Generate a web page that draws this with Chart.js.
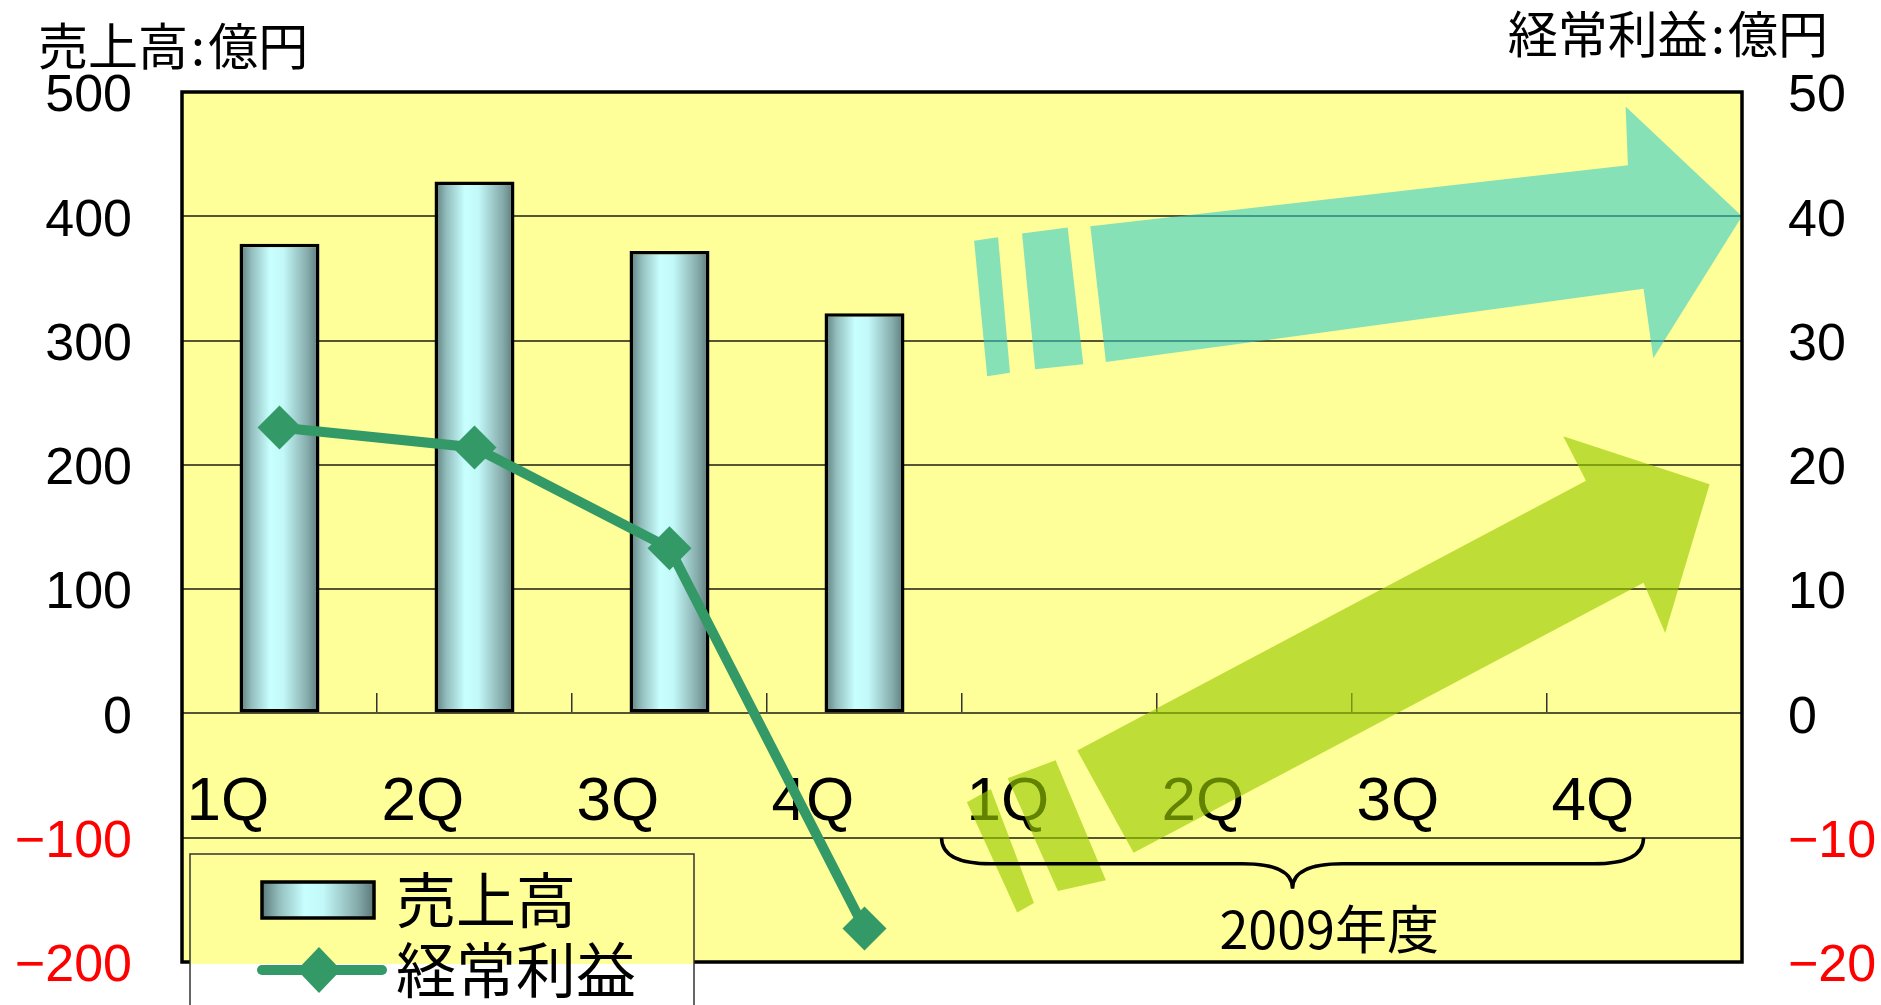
<!DOCTYPE html>
<html lang="ja">
<head>
<meta charset="utf-8">
<script src="https://cdn.jsdelivr.net/npm/chart.js@4.4.1/dist/chart.umd.min.js"></script>
<style>
  html, body { margin: 0; padding: 0; background: #fff; }
  #wrap { width: 1881px; height: 1005px; position: relative; }
</style>
</head>
<body>
<div id="wrap"><canvas id="salesChart"></canvas></div>
<script>
/* globals Chart:false */

// data
const quarters = ['1Q', '2Q', '3Q', '4Q', '1Q', '2Q', '3Q', '4Q'];
const salesValues = [378, 428, 372, 322, null, null, null, null];   // 売上高 (億円)
const profitValues = [23.0, 21.4, 13.3, -17.3, null, null, null, null]; // 経常利益 (億円)
const salesRange = [-200, 500];
const salesStep = 100;
const profitRange = [-20, 50];
const profitStep = 10;
const seriesNames = ['売上高', '経常利益'];
const leftTitle = '売上高\u200A:\u200A億円';
const rightTitle = '経常利益\u200A:\u200A億円';
const yearLabel = '2009年度';

(() => {
  'use strict'

  const JP = '"Noto Sans CJK JP", "Noto Sans", sans-serif';
  const NUM = '"Liberation Sans", Arial, sans-serif';
  const GREEN = '#339966';
  const barPct = 0.41;

  // decorative arrows, in [category, right-axis value] units
  const cyanParts = [
    [[3.562, 38.03], [3.685, 38.32], [3.746, 27.41], [3.629, 27.12]],
    [[3.808, 38.61], [4.042, 39.09], [4.122, 28.09], [3.875, 27.70]],
    [[4.158, 39.19], [6.915, 44.11], [6.903, 48.84], [7.5, 40], [7.045, 28.57], [6.995, 34.17], [4.238, 28.28]]
  ];
  const greenParts = [
    [[3.525, -7.14], [3.648, -6.08], [3.869, -15.25], [3.783, -16.02]],
    [[3.734, -5.21], [3.980, -3.76], [4.238, -13.42], [3.992, -14.29]],
    [[4.091, -2.99], [6.7, 18.73], [6.583, 22.30], [7.334, 18.44], [7.106, 6.47], [6.995, 10.52], [4.38, -11.20]]
  ];

  const cylinder = (c, x0, x1) => {
    const g = c.createLinearGradient(x0, 0, x1, 0);
    g.addColorStop(0, '#5b7a7a');
    g.addColorStop(0.15, '#93bdbd');
    g.addColorStop(0.38, '#c8ffff');
    g.addColorStop(0.55, '#c2f8f8');
    g.addColorStop(0.85, '#86abab');
    g.addColorStop(1, '#5b7878');
    return g;
  };

  const barFill = (ctx) => {
    const chart = ctx.chart;
    const xs = chart.scales.x;
    if (!chart.chartArea || !xs || ctx.dataIndex === undefined) return '#c6fcfc';
    const step = xs.getPixelForValue(1) - xs.getPixelForValue(0);
    const cx = xs.getPixelForValue(ctx.dataIndex);
    const half = step * barPct / 2;
    return cylinder(chart.ctx, cx - half, cx + half);
  };

  const minusFmt = (v) => (v < 0 ? '\u2212' + Math.abs(v) : String(v));
  const negRed = (c) => (c.tick && c.tick.value < 0 ? '#ff0000' : '#000000');

  const plotBg = {
    id: 'plotBg',
    beforeDraw(chart) {
      const { ctx, chartArea: a } = chart;
      ctx.save();
      ctx.fillStyle = '#ffff99';
      ctx.fillRect(a.left, a.top, a.right - a.left, a.bottom - a.top);
      ctx.restore();
    }
  };

  const extras = {
    id: 'extras',
    afterDraw(chart) {
      const { ctx, chartArea: a, scales } = chart;
      const px = (p) => [scales.x.getPixelForValue(p[0]), scales.y1.getPixelForValue(p[1])];
      const poly = (pts, fill) => {
        ctx.beginPath();
        pts.forEach((p, i) => {
          const [x, y] = px(p);
          if (i === 0) ctx.moveTo(x, y); else ctx.lineTo(x, y);
        });
        ctx.closePath();
        ctx.fillStyle = fill;
        ctx.fill();
      };
      ctx.save();
      cyanParts.forEach(p => poly(p, 'rgba(51, 204, 204, 0.59)'));
      greenParts.forEach(p => poly(p, 'rgba(153, 204, 0, 0.64)'));

      // brace under the 2009 quarters
      const xL = scales.x.getPixelForValue(3.395);
      const xR = scales.x.getPixelForValue(6.995);
      const xC = scales.x.getPixelForValue(5.195);
      const yTop = scales.y.getPixelForValue(-100);
      const yMid = scales.y.getPixelForValue(-121);
      const yTip = scales.y.getPixelForValue(-141);
      const r = 50;
      ctx.beginPath();
      ctx.moveTo(xL, yTop);
      ctx.quadraticCurveTo(xL, yMid, xL + r, yMid);
      ctx.lineTo(xC - r, yMid);
      ctx.quadraticCurveTo(xC, yMid, xC, yTip);
      ctx.quadraticCurveTo(xC, yMid, xC + r, yMid);
      ctx.lineTo(xR - r, yMid);
      ctx.quadraticCurveTo(xR, yMid, xR, yTop);
      ctx.lineWidth = 3.5;
      ctx.strokeStyle = '#000';
      ctx.stroke();

      ctx.fillStyle = '#000';
      ctx.font = '52px ' + JP;
      ctx.textAlign = 'center';
      ctx.textBaseline = 'middle';
      ctx.fillText(yearLabel, scales.x.getPixelForValue(5.383), scales.y.getPixelForValue(-174));

      // plot frame
      ctx.lineWidth = 3.5;
      ctx.strokeRect(a.left, a.top, a.right - a.left, a.bottom - a.top);

      // legend box
      const lx = a.left + 8, ly = a.bottom - 108, lw = 504, lh = 170;
      ctx.fillStyle = '#ffff99';
      ctx.fillRect(lx, ly, lw, a.bottom - ly + 2);
      ctx.fillStyle = '#ffffff';
      ctx.fillRect(lx, a.bottom + 2, lw, lh);
      ctx.lineWidth = 1.5;
      ctx.strokeStyle = '#333';
      ctx.strokeRect(lx, ly, lw, lh);

      const sx = lx + 72, sw = 112;
      ctx.fillStyle = cylinder(ctx, sx, sx + sw);
      ctx.fillRect(sx, ly + 28, sw, 36);
      ctx.lineWidth = 3.5;
      ctx.strokeStyle = '#000';
      ctx.strokeRect(sx, ly + 28, sw, 36);

      const ly2 = ly + 116;
      ctx.beginPath();
      ctx.moveTo(sx, ly2);
      ctx.lineTo(sx + 120, ly2);
      ctx.lineCap = 'round';
      ctx.lineWidth = 10;
      ctx.strokeStyle = GREEN;
      ctx.stroke();
      const dx = sx + 57;
      ctx.beginPath();
      ctx.moveTo(dx - 22, ly2);
      ctx.lineTo(dx, ly2 - 23);
      ctx.lineTo(dx + 22, ly2);
      ctx.lineTo(dx, ly2 + 23);
      ctx.closePath();
      ctx.fillStyle = GREEN;
      ctx.fill();

      ctx.fillStyle = '#000';
      ctx.font = '60px ' + JP;
      ctx.textAlign = 'left';
      ctx.textBaseline = 'middle';
      ctx.fillText(seriesNames[0], lx + 206, ly + 46);
      ctx.fillText(seriesNames[1], lx + 206, ly2);

      // axis unit titles
      ctx.font = '50px ' + JP;
      ctx.fillText(leftTitle, 38, 46);
      ctx.textAlign = 'right';
      ctx.fillText(rightTitle, 1828, 34);
      ctx.restore();
    }
  };

  const ctx = document.getElementById('salesChart').getContext('2d');

  const config = {
    type: 'bar',
    data: {
      labels: quarters,
      datasets: [
        {
          type: 'bar',
          label: seriesNames[0],
          data: salesValues,
          yAxisID: 'y',
          order: 1,
          backgroundColor: barFill,
          borderColor: '#000',
          borderWidth: 3.5,
          borderSkipped: false,
          barPercentage: barPct,
          categoryPercentage: 1.0
        },
        {
          type: 'line',
          label: seriesNames[1],
          data: profitValues,
          yAxisID: 'y1',
          order: 0,
          borderColor: GREEN,
          borderWidth: 10,
          tension: 0,
          pointStyle: 'rectRot',
          pointRadius: 22,
          pointBackgroundColor: GREEN,
          pointBorderColor: GREEN,
          pointBorderWidth: 0
        }
      ]
    },
    options: {
      responsive: true,
      maintainAspectRatio: false,
      animation: false,
      layout: { padding: { top: 92, bottom: 43, left: 0, right: 0 } },
      plugins: {
        legend: { display: false },
        title: { display: false },
        tooltip: { enabled: false }
      },
      scales: {
        x: {
          position: { y: 0 },
          offset: true,
          border: { display: false },
          grid: {
            offset: true,
            drawOnChartArea: false,
            drawTicks: true,
            tickLength: -20,
            tickColor: '#333',
            lineWidth: 1.5
          },
          ticks: {
            autoSkip: false,
            maxRotation: 0,
            align: 'start',
            labelOffset: -93,
            padding: 72,
            color: '#000',
            font: { family: NUM, size: 62 }
          }
        },
        y: {
          position: 'left',
          min: salesRange[0],
          max: salesRange[1],
          afterFit(scale) { scale.width = 182; },
          border: { display: false },
          grid: { color: '#555533', lineWidth: 2, drawTicks: true, tickLength: 40, tickColor: 'rgba(0,0,0,0)' },
          ticks: {
            stepSize: salesStep,
            padding: 10,
            labelOffset: 5,
            color: negRed,
            font: { family: NUM, size: 52 },
            callback: minusFmt
          }
        },
        y1: {
          position: 'right',
          min: profitRange[0],
          max: profitRange[1],
          afterFit(scale) { scale.width = 139; },
          border: { display: false },
          grid: { drawOnChartArea: false, drawTicks: true, tickLength: 36, tickColor: 'rgba(0,0,0,0)' },
          ticks: {
            stepSize: profitStep,
            padding: 10,
            labelOffset: 5,
            color: negRed,
            font: { family: NUM, size: 52 },
            callback: minusFmt
          }
        }
      }
    },
    plugins: [plotBg, extras]
  };

  const salesChart = new Chart(ctx, config);
})()
</script>
</body>
</html>
